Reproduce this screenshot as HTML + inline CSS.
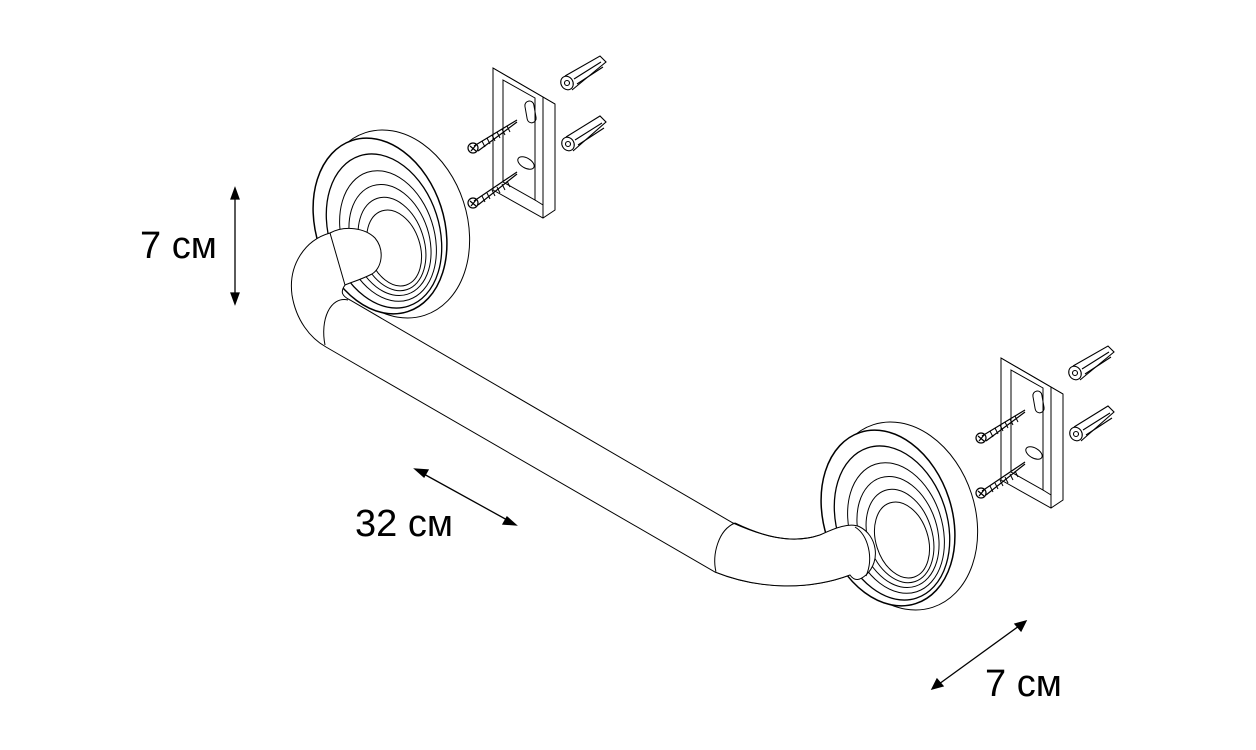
<!DOCTYPE html>
<html><head><meta charset="utf-8"><style>
html,body{margin:0;padding:0;background:#fff;}
svg{display:block}
text{font-family:"Liberation Sans",sans-serif;font-size:38px;fill:#000}
</style></head><body>
<svg width="1256" height="750" viewBox="0 0 1256 750" xmlns="http://www.w3.org/2000/svg">
<defs>
<g id="ros" fill="none" stroke="#000" stroke-width="1">
  <ellipse cx="395" cy="224" rx="72" ry="96" transform="rotate(-18 395 224)" fill="#fff"/>
  <ellipse cx="380" cy="226" rx="64" ry="90" transform="rotate(-18 380 226)" stroke-width="1.5" fill="#fff"/>
  <ellipse cx="384" cy="231" rx="55" ry="79" transform="rotate(-18 384 231)" stroke-width="1.3"/>
  <ellipse cx="388" cy="236" rx="46" ry="67" transform="rotate(-18 388 236)"/>
  <ellipse cx="390" cy="240" rx="39" ry="57" transform="rotate(-18 390 240)"/>
  <ellipse cx="392" cy="244" rx="32" ry="48" transform="rotate(-18 392 244)"/>
  <ellipse cx="394" cy="248" rx="26" ry="39" transform="rotate(-18 394 248)"/>
</g>
<g id="brk" fill="none" stroke="#000" stroke-width="1">
  <polygon points="493,68 555,104 555,210 543,218 493,190" fill="#fff"/>
  <polyline points="493,68 543,97 543,218"/>
  <polyline points="543,97 555,104"/>
  <polygon points="503,80 535,98 535,200 503,182"/>
  <rect x="526" y="101" width="9" height="22" rx="4.5" transform="rotate(-10 530 112)"/>
  <ellipse cx="526" cy="163" rx="9" ry="5" transform="rotate(30 526 163)"/>
  <line x1="535" y1="200" x2="543" y2="205"/>
  <g stroke-width="1.2">
    <line x1="474" y1="146" x2="517" y2="120"/>
    <line x1="478" y1="151" x2="517" y2="122"/>
    <ellipse cx="473" cy="148" rx="5" ry="5"/>
    <path d="M470 146l6 5M476 145l-5 6"/>
    <line x1="474" y1="201" x2="517" y2="172"/>
    <line x1="478" y1="205" x2="517" y2="174"/>
    <ellipse cx="473" cy="203" rx="5" ry="5"/>
    <path d="M470 201l6 5M476 200l-5 6"/>
  </g>
  <path d="M482 141l3 6M487 138l3 6M492 135l3 6M497 132l3 6M502 129l3 6M507 126l3 6" />
  <path d="M482 196l3 6M487 193l3 6M492 190l3 6M497 187l3 6M502 184l3 6M507 181l3 6" />
  <g stroke-width="1.1">
    <ellipse cx="567" cy="83" rx="6" ry="7" transform="rotate(-30 567 83)"/>
    <circle cx="567" cy="83" r="2.5"/>
    <path d="M565 76 L600 56 L606 62 L572 90"/>
    <path d="M574 79l27-17M577 84l26-17"/>
    <ellipse cx="568" cy="144" rx="6" ry="7" transform="rotate(-30 568 144)"/>
    <circle cx="568" cy="144" r="2.5"/>
    <path d="M566 137 L600 116 L606 122 L573 151"/>
    <path d="M575 140l27-17M578 145l26-17"/>
  </g>
</g>
</defs>

<use href="#ros"/>
<path d="M330 233 C345 225 365 228 375 238 C385 250 382 268 372 274 C360 280 352 282 345 285 L340 292" fill="#fff" stroke="#000" stroke-width="1"/>
<path d="M330 233 C305 240 288 265 292 295 C296 320 310 338 326 347 L715 572 C760 590 810 590 850 575 L860 580 L865 575 C875 570 880 555 876 545 C868 528 850 522 840 528 L820 535 C790 545 760 535 733 523 L350 300 C342 296 340 292 345 285 Z" fill="#fff" stroke="#000" stroke-width="1"/>
<path d="M348 300 C330 296 320 320 325 345" fill="none" stroke="#000" stroke-width="1"/>
<path d="M735 523 C718 530 712 555 716 572" fill="none" stroke="#000" stroke-width="1"/>
<use href="#ros" transform="translate(508 292)"/>
<path d="M820 535 C835 528 850 522 860 527 C876 535 882 560 866 575 C860 580 855 582 850 575 C810 590 760 590 715 572" fill="#fff" stroke="#000" stroke-width="1"/>
<path d="M735 523 C760 535 790 545 820 535" fill="none" stroke="#000" stroke-width="1"/>
<path d="M855 527 C868 535 874 558 866 576" fill="none" stroke="#000" stroke-width="1"/>

<use href="#brk"/>
<use href="#brk" transform="translate(508 290)"/>

<g stroke="#000" stroke-width="1.3" fill="#000">
  <line x1="235" y1="196" x2="235" y2="296"/>
  <polygon points="235,188 231,199 239,199"/>
  <polygon points="235,304 231,293 239,293"/>
  <line x1="422" y1="473" x2="509" y2="521"/>
  <polygon points="415,469 424,477 428,470"/>
  <polygon points="516,525 507,517 503,524"/>
  <line x1="939" y1="684" x2="1019" y2="626"/>
  <polygon points="932,689 937,679 943,686"/>
  <polygon points="1026,621 1021,631 1015,624"/>
</g>
<text x="140" y="258">7 см</text>
<text x="355" y="536">32 см</text>
<text x="985" y="696">7 см</text>
</svg>
</body></html>
